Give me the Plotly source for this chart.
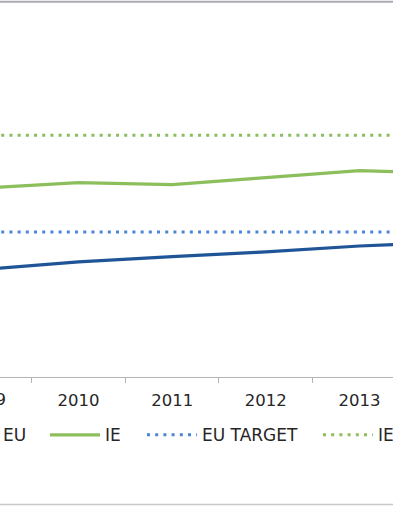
import plotly.graph_objects as go

years = ["2009", "2010", "2011", "2012", "2013", "2014"]
eu = [32.3, 33.8, 34.9, 35.9, 37.1, 37.9]
ie = [49.1, 50.2, 49.8, 51.2, 52.7, 52.1]
eu_target = [40, 40, 40, 40, 40, 40]
ie_target = [60, 60, 60, 60, 60, 60]

W, H = 393, 507
T_M, B_M = 86.5, 129.5
PH = H - T_M - B_M
x_range = [0.162, 4.358]
y_range = [10, 70]

DARK = "#1F5597"
GREEN = "#8CBF5C"
BLUE = "#4A86D6"
FONT = "DejaVu Sans"
TXT = "#262626"

fig = go.Figure()
fig.add_trace(go.Scatter(x=years, y=eu, name="EU", mode="lines",
                         line=dict(color=DARK, width=3.2), legend="legend"))
fig.add_trace(go.Scatter(x=years, y=ie, name="IE", mode="lines",
                         line=dict(color=GREEN, width=3.2), legend="legend2"))
fig.add_trace(go.Scatter(x=years, y=eu_target, name="EU TARGET", mode="lines",
                         line=dict(color=BLUE, width=3, dash="3px,5.2px"), legend="legend3"))
fig.add_trace(go.Scatter(x=years, y=ie_target, name="IE TARGET", mode="lines",
                         line=dict(color=GREEN, width=3, dash="3px,5.2px"), legend="legend4"))

def px2paper_x(px):
    return px / W

def px2paper_y(py):
    return (T_M + PH - py) / PH

leg_y = px2paper_y(436)
def leg(px):
    return dict(x=px2paper_x(px), xanchor="left", y=leg_y, yanchor="middle",
                orientation="h", itemwidth=50, bgcolor="rgba(0,0,0,0)",
                font=dict(family=FONT, size=17, color=TXT))

# first category label, partly outside the visible area
first_pos = (0 - x_range[0]) / (x_range[1] - x_range[0])
fig.add_annotation(x=first_pos, y=px2paper_y(400), xref="paper", yref="paper",
                   text=years[0], showarrow=False, xanchor="center", yanchor="middle",
                   font=dict(family=FONT, size=16.5, color=TXT))

border = "#ABABB3"
fig.add_shape(type="line", xref="paper", yref="paper", x0=-0.2, x1=1.2,
              y0=px2paper_y(1), y1=px2paper_y(1), line=dict(color=border, width=2))
fig.add_shape(type="line", xref="paper", yref="paper", x0=-0.2, x1=1.2,
              y0=px2paper_y(505.5), y1=px2paper_y(505.5), line=dict(color="#C8C8CC", width=1.5))

fig.update_layout(
    width=W, height=H,
    margin=dict(l=0, r=0, t=T_M, b=B_M, autoexpand=False),
    paper_bgcolor="white", plot_bgcolor="white",
    showlegend=True,
    legend=leg(-57), legend2=leg(45), legend3=leg(142), legend4=leg(318),
    xaxis=dict(type="category", range=x_range, tickson="boundaries",
               ticks="outside", ticklen=5, tickcolor="#B4B4B4", tickwidth=1,
               ticklabelstandoff=8,
               showline=True, linecolor="#B4B4B4", linewidth=1,
               showgrid=False, zeroline=False,
               tickfont=dict(family=FONT, size=16.5, color=TXT)),
    yaxis=dict(range=y_range, visible=False, showgrid=False, zeroline=False),
)

fig.write_html("out.html",
               config={"displayModeBar": False},
               post_script="document.body.style.margin='0px';"
                           "document.body.style.overflow='hidden';")
